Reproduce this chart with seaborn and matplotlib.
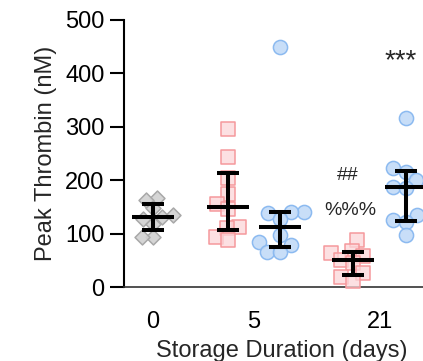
import numpy as np
import pandas as pd
import matplotlib
matplotlib.use("Agg")
import matplotlib.pyplot as plt
import seaborn as sns

# Peak thrombin (nM) per unit, by storage duration
day_labels = ["0", "5", "21"]
fresh_d0 = [167, 163, 148, 135, 131, 128, 118, 94, 94]
arm_a_d5 = [296, 243, 204, 174, 155, 146, 112, 110, 94, 88]
arm_b_d5 = [449, 141, 140, 138, 127, 97, 85, 79, 66, 66]
arm_a_d21 = [88, 68, 64, 58, 50, 45, 26, 18, 12]
arm_b_d21 = [316, 223, 216, 200, 188, 185, 135, 125, 122, 97]

# significance marks
mark_b21 = "***"
mark_a21_hash = "##"
mark_a21_pct = "%%%"

# ---- layout / styling ----
slots = {"fresh_d0": 0.0, "arm_a_d5": 1.43, "arm_b_d5": 2.42,
         "arm_a_d21": 3.81, "arm_b_d21": 4.82}
series = {"fresh_d0": fresh_d0, "arm_a_d5": arm_a_d5, "arm_b_d5": arm_b_d5,
          "arm_a_d21": arm_a_d21, "arm_b_d21": arm_b_d21}
# swarm_size sets the packing (points overlap once drawn at size)
styles = {
    "fresh": dict(marker="D", swarm_size=6.6, size=7.6,
                  face=(0.82, 0.82, 0.82, 0.9), edge=(0.66, 0.66, 0.66, 1.0),
                  keys=["fresh_d0"]),
    "arm_a": dict(marker="s", swarm_size=7.4, size=9.6,
                  face=(0.99, 0.84, 0.85, 0.75), edge=(0.96, 0.60, 0.61, 1.0),
                  keys=["arm_a_d5", "arm_a_d21"]),
    "arm_b": dict(marker="o", swarm_size=8.0, size=10.2,
                  face=(0.75, 0.85, 0.97, 0.85), edge=(0.55, 0.73, 0.94, 1.0),
                  keys=["arm_b_d5", "arm_b_d21"]),
}

sns.set_style("ticks")
plt.rcParams["font.family"] = ["Liberation Sans", "DejaVu Sans"]
plt.rcParams["font.size"] = 17

rows = []
for key, vals in series.items():
    for v in vals:
        rows.append({"series": key, "pos": slots[key], "thrombin": v})
df = pd.DataFrame(rows)

W, H = 423, 361
fig = plt.figure(figsize=(W / 100, H / 100), dpi=100)
ax = fig.add_axes([124 / W, 1 - 287 / H, (440 - 124) / W, 267 / H])

ax.set_ylim(0, 500)
ax.set_xlim(-0.552, (440 - 153) / 52.5)

final_sizes = []
for name, st in styles.items():
    sub = df[df["series"].isin(st["keys"])]
    n_before = len(ax.collections)
    sns.swarmplot(data=sub, x="pos", y="thrombin", native_scale=True, orient="x",
                  marker=st["marker"], size=st["swarm_size"], color=st["face"],
                  edgecolor=st["edge"], linewidth=1.1, ax=ax, zorder=3,
                  clip_on=False, warn_thresh=1.0)
    for coll in ax.collections[n_before:]:
        final_sizes.append((coll, st["size"]))

ax.set_ylim(0, 500)
ax.set_xlim(-0.552, (440 - 153) / 52.5)

# lay out the swarm once, then freeze offsets and draw markers at full size
fig.canvas.draw()
for coll, sz in final_sizes:
    coll.__dict__.pop("draw", None)
    coll.set_sizes([sz ** 2])
    coll.set_clip_on(False)

# median with interquartile range
for key, vals in series.items():
    arr = np.asarray(vals, dtype=float)
    q1, med, q3 = np.percentile(arr, [25, 50, 75], method="weibull")
    x = slots[key]
    ax.errorbar([x], [med], yerr=[[med - q1], [q3 - med]], fmt="none",
                ecolor="black", elinewidth=2.9, capsize=7.9, capthick=2.9,
                zorder=6, clip_on=False)
    ax.hlines(med, x - 0.4, x + 0.4, color="black", lw=2.9, zorder=6,
              clip_on=False)

ax.text(slots["arm_b_d21"] - 0.1, 423, mark_b21, ha="center", va="center",
        fontsize=20)
ax.text(slots["arm_a_d21"] - 0.1, 208, mark_a21_hash, ha="center",
        va="center", fontsize=14)
ax.text(slots["arm_a_d21"] - 0.06, 143, mark_a21_pct, ha="center",
        va="center", fontsize=14)

ax.set_yticks([0, 100, 200, 300, 400, 500])
day_pos = [slots["fresh_d0"],
           (slots["arm_a_d5"] + slots["arm_b_d5"]) / 2,
           (slots["arm_a_d21"] + slots["arm_b_d21"]) / 2]
ax.set_xticks(day_pos)
ax.set_xticklabels(day_labels)

ax.set_ylabel("Peak Thrombin (nM)", fontsize=17, labelpad=6)
ax.set_xlabel("Storage Duration (days)", fontsize=17, labelpad=5)

for side in ("top", "right"):
    ax.spines[side].set_visible(False)
ax.spines["left"].set_linewidth(1.5)
ax.spines["left"].set_color("black")
ax.spines["bottom"].set_linewidth(1.2)
ax.spines["bottom"].set_color("#333333")
ax.tick_params(axis="y", length=10, width=1.5, pad=4, labelsize=17,
               colors="black")
ax.tick_params(axis="x", length=0, pad=17, labelsize=17, colors="black")
ax.set_facecolor("white")
fig.patch.set_facecolor("white")

fig.savefig("out.png", dpi=100)
